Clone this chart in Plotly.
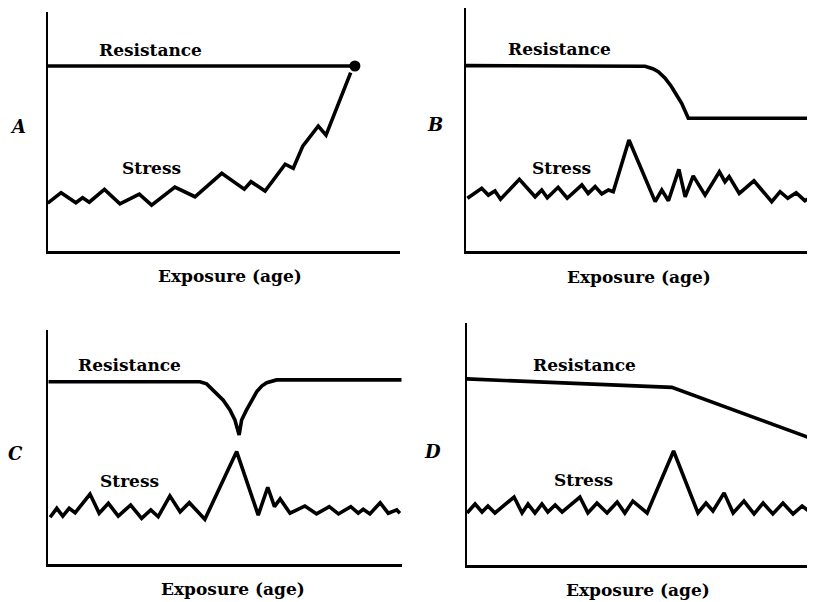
import plotly.graph_objects as go

# values: x = exposure (0-100), y = level (0-100)
a_resist_x = [0, 87.2]
a_resist_y = [77.4, 77.4]
a_stress_x = [0, 3.8, 8.0, 9.9, 11.8, 16.1, 20.5, 26.0, 29.5, 36.1, 41.8, 49.4, 55.8,
              57.7, 61.7, 67.4, 69.7, 72.4, 76.8, 79.0, 86.0]
a_stress_y = [20.0, 24.4, 20.2, 22.3, 20.4, 25.8, 19.7, 23.8, 19.2, 26.7, 22.7, 32.5, 25.9,
              29.0, 25.1, 36.3, 34.6, 43.9, 52.3, 48.5, 74.6]

b_resist_x = [0, 49.4, 51.3, 53.5, 55.1, 57.0, 58.9, 60.5, 61.8, 63.7, 100]
b_resist_y = [76.3, 76.3, 76.0, 75.0, 73.8, 71.2, 67.6, 63.8, 60.8, 54.6, 54.6]
b_stress_x = [0.4, 4.5, 6.4, 8.3, 9.9, 15.3, 19.8, 21.7, 23.3, 26.4, 29.0, 33.2, 35.0, 37.0,
              38.9, 40.8, 42.2, 46.7, 54.2, 56.1, 58.0, 61.0, 62.8, 65.1, 68.5, 72.6, 74.2,
              75.4, 78.3, 82.5, 87.6, 90.0, 92.2, 94.6, 97.1, 100]
b_stress_y = [21.7, 25.8, 23.0, 24.7, 21.3, 29.5, 22.3, 25.1, 21.9, 26.2, 21.7, 27.2, 23.7, 26.5,
              23.5, 25.1, 24.4, 45.7, 20.3, 25.1, 20.7, 33.6, 22.3, 30.9, 23.0, 32.6, 28.5,
              30.6, 23.7, 28.9, 20.3, 24.4, 21.7, 24.0, 20.7, 23.0]

c_resist_x = [0, 42.9, 44.8, 47.7, 49.5, 51.4, 52.8, 54.0, 54.7, 56.1, 59.0, 60.4, 61.8, 64.6, 100]
c_resist_y = [77.9, 77.9, 77.0, 73.0, 70.0, 65.9, 61.6, 55.2, 61.6, 65.9, 73.7, 76.1, 77.5, 78.7, 78.7]
c_stress_x = [0.5, 2.4, 4.1, 5.9, 7.6, 11.8, 14.4, 17.0, 19.8, 23.3, 26.4, 29.0, 31.1, 34.4,
              37.3, 39.9, 44.3, 53.3, 59.4, 62.1, 64.0, 65.6, 68.4, 72.6, 75.9, 79.5, 82.1,
              85.6, 87.7, 89.1, 91.0, 93.9, 96.2, 98.6, 99.5]
c_stress_y = [20.1, 23.9, 20.6, 23.9, 22.0, 30.0, 21.8, 26.0, 20.6, 25.3, 19.6, 23.2, 20.3, 29.2,
              22.4, 26.3, 19.2, 48.1, 21.0, 32.9, 24.6, 27.9, 21.8, 24.9, 21.5, 24.6, 21.5,
              24.6, 21.8, 23.5, 21.5, 26.3, 21.8, 23.2, 21.8]

d_resist_x = [0, 58.9, 100]
d_resist_y = [76.9, 73.4, 51.7]
d_stress_x = [0.1, 2.4, 4.4, 6.1, 8.1, 13.6, 15.9, 17.6, 19.6, 21.6, 23.3, 25.4, 27.4, 32.5,
              34.8, 37.4, 40.3, 43.2, 45.4, 47.7, 51.8, 59.4, 66.4, 68.7, 70.7, 73.9, 76.5,
              79.6, 82.5, 85.1, 87.9, 90.8, 93.7, 96.3, 98.6, 100]
d_stress_y = [21.5, 25.2, 21.9, 24.4, 21.5, 28.1, 21.5, 25.2, 21.5, 25.2, 21.9, 24.8, 21.9, 28.1,
              21.5, 25.6, 21.5, 26.0, 21.5, 26.4, 21.5, 47.1, 21.5, 25.6, 22.3, 29.8, 21.5,
              26.4, 21.1, 25.6, 21.1, 25.6, 21.1, 24.4, 21.9, 23.6]

panel_letters = ["A", "B", "C", "D"]
x_title = "Exposure (age)"

# the page body has an 8px margin, so the figure is drawn 8px in
OFF = 8
W, H = 815 - OFF, 602 - OFF
FONT = "DejaVu Serif"

panels = [
    # resist, stress, x extent px, y extent px (top, bottom), label spots in axis units
    dict(rx=a_resist_x, ry=a_resist_y, sx=a_stress_x, sy=a_stress_y,
         xd=(47.7, 400), yd=(12, 251), res=(29.3, 84.1), st=(29.6, 34.7),
         let=(-8.4, 51.9), xt=51.7),
    dict(rx=b_resist_x, ry=b_resist_y, sx=b_stress_x, sy=b_stress_y,
         xd=(466, 815), yd=(8, 251), res=(26.9, 83.1), st=(27.4, 34.2),
         let=(-8.9, 51.9), xt=49.6),
    dict(rx=c_resist_x, ry=c_resist_y, sx=c_stress_x, sy=c_stress_y,
         xd=(48.3, 401.7), yd=(330, 564.3), res=(23.1, 85.1), st=(23.0, 35.6),
         let=(-9.4, 47.5), xt=52.3),
    dict(rx=d_resist_x, ry=d_resist_y, sx=d_stress_x, sy=d_stress_y,
         xd=(466.7, 815), yd=(323, 565), res=(33.7, 82.6), st=(33.4, 35.1),
         let=(-9.7, 46.7), xt=49.2),
]

fig = go.Figure()
annotations = []
for i, p in enumerate(panels):
    n = "" if i == 0 else str(i + 1)
    xa, ya = "x" + n, "y" + n
    line = dict(color="black", width=3.6)
    fig.add_trace(go.Scatter(x=p["rx"], y=p["ry"], mode="lines", line=line,
                             xaxis=xa, yaxis=ya, cliponaxis=False))
    fig.add_trace(go.Scatter(x=p["sx"], y=p["sy"], mode="lines", line=line,
                             xaxis=xa, yaxis=ya, cliponaxis=False))
    if i == 0:
        # failure point where stress meets resistance
        fig.add_trace(go.Scatter(x=[p["rx"][-1]], y=[p["ry"][-1]], mode="markers",
                                 marker=dict(color="black", size=11),
                                 xaxis=xa, yaxis=ya, cliponaxis=False))
    x0, x1 = (p["xd"][0] - OFF) / W, min((p["xd"][1] - OFF) / W, 1)
    y0, y1 = 1 - (p["yd"][1] - OFF) / H, min(1 - (p["yd"][0] - OFF) / H, 1)
    fig.update_layout({
        "xaxis" + n: dict(domain=[x0, x1], range=[0, 100],
                          showline=True, linecolor="black", linewidth=3,
                          showgrid=False, zeroline=False, showticklabels=False,
                          ticks="", anchor=ya),
        "yaxis" + n: dict(domain=[y0, y1], range=[0, 100],
                          showline=True, linecolor="black", linewidth=2.2,
                          showgrid=False, zeroline=False, showticklabels=False,
                          ticks="", anchor=xa),
    })
    txt = dict(xref=xa + " domain", yref=ya + " domain", showarrow=False,
               xanchor="center", yanchor="middle",
               font=dict(family=FONT, size=17, color="black"))
    annotations.append(dict(txt, x=p["res"][0] / 100, y=p["res"][1] / 100,
                            text="<b>Resistance</b>"))
    annotations.append(dict(txt, x=p["st"][0] / 100, y=p["st"][1] / 100,
                            text="<b>Stress</b>"))
    annotations.append(dict(txt, x=p["xt"] / 100, y=-0.105,
                            text="<b>" + x_title + "</b>"))
    annotations.append(dict(txt, x=p["let"][0] / 100, y=p["let"][1] / 100,
                            text="<b><i>" + panel_letters[i] + "</i></b>",
                            font=dict(family=FONT, size=18, color="black")))

fig.update_layout(width=W, height=H, margin=dict(l=0, r=0, t=0, b=0),
                  paper_bgcolor="white", plot_bgcolor="white",
                  showlegend=False, annotations=annotations)
fig.write_html("out.html")
